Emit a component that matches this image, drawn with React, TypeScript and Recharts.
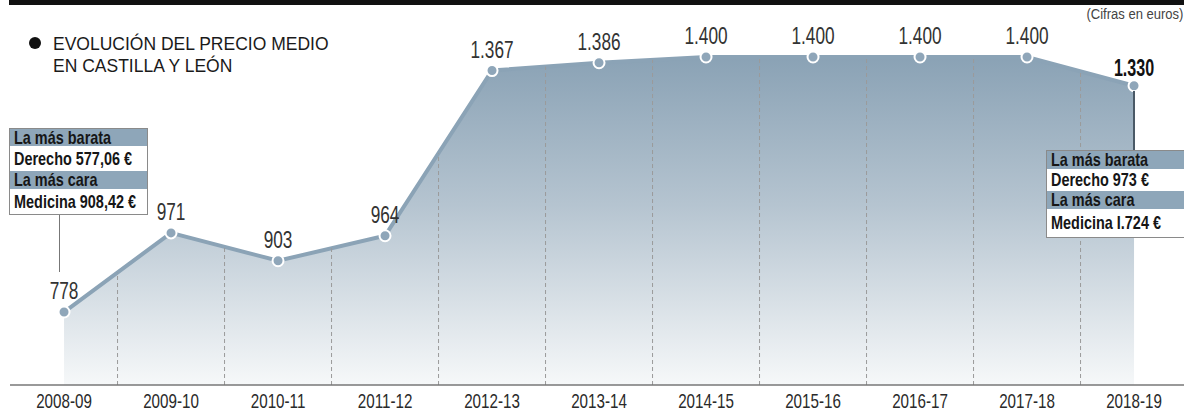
import React from 'react';
import { ComposedChart, Area, XAxis, YAxis, ReferenceLine, LabelList } from 'recharts';

const seasons = ['2008-09', '2009-10', '2010-11', '2011-12', '2012-13', '2013-14', '2014-15', '2015-16', '2016-17', '2017-18', '2018-19'];
const prices = [778, 971, 903, 964, 1367, 1386, 1400, 1400, 1400, 1400, 1330];
const yDomain = [600, 1500];
const titleLines = ['EVOLUCIÓN DEL PRECIO MEDIO', 'EN CASTILLA Y LEÓN'];
const unitNote = '(Cifras en euros)';
const firstBox = ['La más barata', 'Derecho 577,06 €', 'La más cara', 'Medicina 908,42 €'];
const lastBox = ['La más barata', 'Derecho 973 €', 'La más cara', 'Medicina I.724 €'];

const data = prices.map((price, i) => ({ i, season: seasons[i], price }));

const fmt = (v: number) =>
  v >= 1000 ? `${Math.floor(v / 1000)}.${String(v % 1000).padStart(3, '0')}` : String(v);

const FONT = '"Liberation Sans", Arial, sans-serif';
const BLUE = '#8ba3b6';

const Tick = (props: any) => {
  const { x, y, payload } = props;
  return (
    <text
      transform={`translate(${x},${y + 15}) scale(0.76,1)`}
      textAnchor="middle"
      fontSize={20}
      fontFamily={FONT}
      fill="#2a2a2a"
    >
      {seasons[payload.value]}
    </text>
  );
};

const PriceLabel = (props: any) => {
  const { x, y, value, index } = props;
  const last = index === prices.length - 1;
  return (
    <text
      transform={`translate(${x},${y - (last ? 10 : 13)}) scale(${last ? 0.7 : 0.75},1)`}
      textAnchor="middle"
      fontSize={23}
      fontFamily={FONT}
      fontWeight={last ? 'bold' : 'normal'}
      fill={last ? '#111' : '#333'}
    >
      {fmt(value)}
    </text>
  );
};

const InfoBox = ({ lines, left, top, width, rows }: { lines: string[]; left: number; top: number; width: number; rows: number[] }) => (
  <div
    style={{
      position: 'absolute',
      left,
      top,
      width,
      border: '1px solid #8a8a8a',
      background: '#fff',
      fontFamily: FONT,
    }}
  >
    {lines.map((t, k) => (
      <div
        key={k}
        style={{
          position: 'relative',
          height: rows[k],
          background: k % 2 === 0 ? '#8ea6b9' : '#fff',
        }}
      >
        <span
          style={{
            position: 'absolute',
            left: 4,
            top: 0,
            fontSize: 19,
            lineHeight: `${rows[k]}px`,
            fontWeight: 'bold',
            color: '#161616',
            whiteSpace: 'nowrap',
            transform: 'scaleX(0.76)',
            transformOrigin: 'left center',
          }}
        >
          {t}
        </span>
      </div>
    ))}
  </div>
);

export default function App() {
  return (
    <div style={{ position: 'relative', width: 1184, height: 412, overflow: 'hidden', background: '#fff' }}>
      <style>{`body{margin:0}`}</style>
      <ComposedChart width={1184} height={412} data={data} margin={{ top: 16, right: 0, bottom: 0, left: 10 }}>
        <defs>
          <linearGradient id="areaGrad" x1="0" y1="0" x2="0" y2="1">
            <stop offset="0" stopColor="#8aa2b5" />
            <stop offset="0.45" stopColor="#b5c4d0" />
            <stop offset="1" stopColor="#f6f8f9" />
          </linearGradient>
        </defs>
        <XAxis
          dataKey="i"
          type="number"
          domain={[-0.505, 10.467]}
          ticks={seasons.map((_, i) => i)}
          interval={0}
          height={27}
          axisLine={{ stroke: '#777', strokeWidth: 1.5 }}
          tickLine={false}
          tick={<Tick />}
        />
        <YAxis hide domain={yDomain} allowDataOverflow />
        <Area
          type="linear"
          dataKey="price"
          stroke={BLUE}
          strokeWidth={4}
          fill="url(#areaGrad)"
          fillOpacity={1}
          dot={{ r: 5.5, fill: '#8fa6b9', stroke: '#fff', strokeWidth: 2 }}
          activeDot={false}
          isAnimationActive={false}
        >
          <LabelList dataKey="price" content={<PriceLabel />} />
        </Area>
        {prices.slice(0, -1).map((v, i) => (
          <ReferenceLine
            key={i}
            segment={[
              { x: i + 0.5, y: yDomain[0] },
              { x: i + 0.5, y: (v + prices[i + 1]) / 2 },
            ]}
            stroke="#9a9a9a"
            strokeDasharray="4 3"
            strokeWidth={1}
          />
        ))}
      </ComposedChart>

      <div style={{ position: 'absolute', left: 9, top: 0, width: 1175, height: 5, background: '#111' }} />

      <div style={{ position: 'absolute', left: 29, top: 37, width: 12, height: 12, borderRadius: 6, background: '#111' }} />
      <div
        style={{
          position: 'absolute',
          left: 53,
          top: 33,
          fontFamily: FONT,
          fontSize: 17.5,
          lineHeight: '22px',
          color: '#1a1a1a',
          whiteSpace: 'nowrap',
        }}
      >
        {titleLines.map((l, k) => (
          <div key={k}>{l}</div>
        ))}
      </div>

      <div
        style={{
          position: 'absolute',
          right: 1,
          top: 5,
          fontFamily: FONT,
          fontSize: 15.5,
          lineHeight: '18px',
          color: '#444',
          whiteSpace: 'nowrap',
          transform: 'scaleX(0.84)',
          transformOrigin: 'right center',
        }}
      >
        {unitNote}
      </div>

      <div style={{ position: 'absolute', left: 59, top: 213, width: 1, height: 59, background: '#777' }} />
      <InfoBox lines={firstBox} left={9} top={128} width={137} rows={[17, 25, 18, 25]} />

      <div style={{ position: 'absolute', left: 1133, top: 91, width: 2, height: 60, background: '#4a5966' }} />
      <InfoBox lines={lastBox} left={1046} top={150} width={150} rows={[18, 22, 18, 28]} />
    </div>
  );
}
